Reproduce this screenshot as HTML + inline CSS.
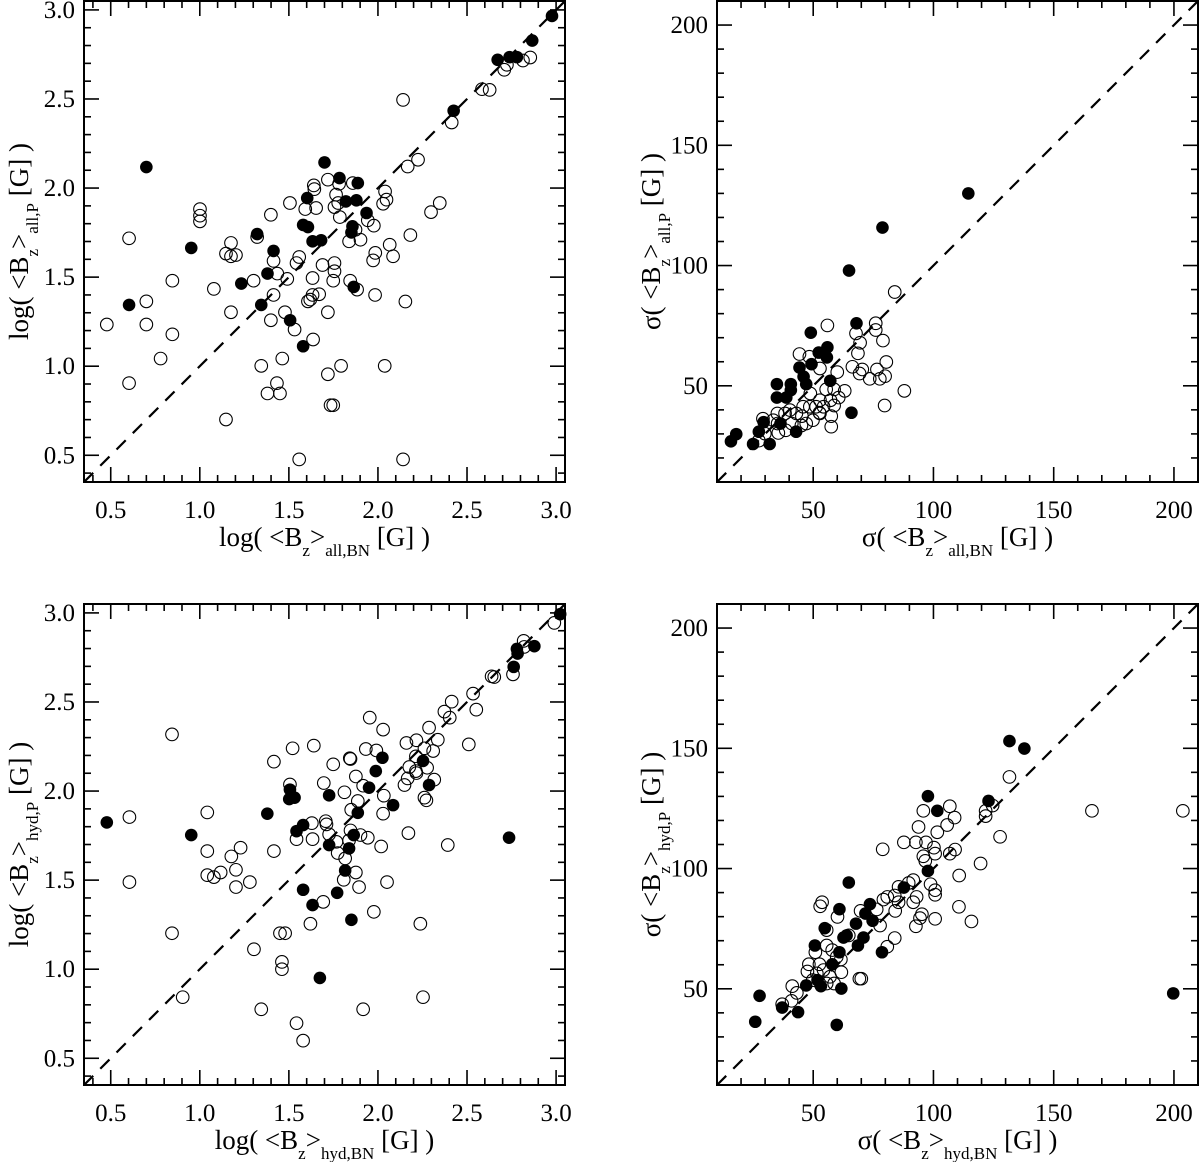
<!DOCTYPE html>
<html><head><meta charset="utf-8"><style>
html,body{margin:0;padding:0;background:#fff}
svg{display:block;font-family:"Liberation Serif","DejaVu Serif",serif}
</style></head><body>
<svg id="fig" width="1200" height="1162" viewBox="0 0 1200 1162" xmlns="http://www.w3.org/2000/svg"></svg>
<script>
// ---- data ----
const logTicks = [0.5,1.0,1.5,2.0,2.5,3.0];
const logTickLabels = ["0.5","1.0","1.5","2.0","2.5","3.0"];
const sigTicks = [50,100,150,200];
const sigTickLabels = ["50","100","150","200"];

const tlFilled = [[2.977,2.966],[2.866,2.828],[2.672,2.720],[2.739,2.735],[2.780,2.735],[2.425,2.434],[0.700,2.118],[1.700,2.144],[1.784,2.056],[1.887,2.028],[1.603,1.944],[1.820,1.925],[1.879,1.931],[1.936,1.860],[1.580,1.793],[1.607,1.781],[1.857,1.785],[1.851,1.751],[1.322,1.742],[1.633,1.701],[1.681,1.707],[0.952,1.664],[1.414,1.647],[1.380,1.520],[1.233,1.464],[0.603,1.344],[1.345,1.344],[1.864,1.445],[1.507,1.258],[1.580,1.112]];
const tlOpen = [[2.855,2.733],[2.814,2.716],[2.709,2.664],[2.724,2.692],[2.584,2.555],[2.627,2.551],[2.414,2.368],[2.141,2.495],[2.167,2.121],[2.225,2.159],[2.347,1.916],[2.298,1.865],[2.040,1.981],[2.048,1.935],[2.029,1.912],[1.977,1.789],[1.943,1.819],[1.640,2.015],[1.643,1.994],[1.719,2.047],[1.782,2.024],[1.859,2.028],[1.765,1.963],[1.777,1.916],[1.756,1.893],[1.786,1.837],[1.653,1.888],[1.592,1.882],[1.506,1.916],[1.399,1.850],[1.874,1.766],[1.902,1.710],[1.838,1.701],[2.182,1.736],[2.066,1.682],[1.985,1.636],[2.085,1.617],[1.973,1.594],[1.001,1.882],[1.001,1.845],[1.001,1.813],[0.603,1.718],[1.322,1.725],[1.175,1.692],[1.147,1.632],[1.175,1.617],[1.203,1.624],[1.414,1.591],[1.543,1.579],[1.558,1.613],[1.689,1.568],[1.756,1.579],[1.756,1.533],[1.749,1.480],[1.844,1.480],[1.883,1.430],[1.435,1.520],[1.491,1.490],[1.633,1.495],[0.846,1.480],[1.079,1.434],[1.302,1.480],[1.414,1.400],[1.633,1.400],[1.670,1.404],[1.607,1.364],[1.620,1.374],[1.984,1.400],[2.154,1.363],[0.700,1.364],[0.700,1.234],[0.478,1.234],[0.846,1.179],[1.175,1.303],[1.399,1.258],[1.478,1.303],[1.719,1.303],[1.532,1.206],[1.636,1.150],[0.780,1.043],[1.463,1.043],[1.345,1.002],[1.793,1.002],[2.038,1.002],[1.719,0.955],[0.603,0.905],[1.433,0.905],[1.380,0.847],[1.450,0.847],[1.734,0.781],[1.749,0.781],[1.147,0.701],[1.558,0.477],[2.141,0.477]];

const trFilled = [[114.5,130.0],[78.8,115.8],[64.9,97.9],[68.0,76.0],[49.0,72.1],[55.9,66.0],[52.3,63.8],[55.7,61.8],[49.3,59.0],[44.3,57.6],[46.0,53.8],[47.1,50.7],[34.9,50.7],[40.7,50.7],[40.7,48.2],[57.1,52.1],[34.9,45.1],[38.8,45.1],[65.9,38.8],[36.4,34.3],[29.4,34.9],[27.4,30.9],[42.9,30.9],[18.0,29.9],[15.8,26.9],[25.0,25.8],[31.9,25.8]];
const trOpen = [[83.9,89.0],[55.9,75.1],[76.0,76.0],[76.0,73.2],[67.8,71.8],[79.0,68.8],[69.5,67.9],[44.3,63.2],[48.4,62.1],[52.8,57.2],[60.0,55.7],[68.6,63.5],[66.3,57.9],[70.4,56.8],[69.3,55.1],[73.5,52.9],[76.5,56.8],[80.4,59.9],[77.7,52.9],[79.9,54.0],[87.9,47.9],[79.7,41.8],[55.4,48.5],[58.7,48.5],[63.1,47.9],[60.6,45.1],[48.8,46.8],[52.8,44.0],[57.2,44.0],[58.7,41.8],[54.3,41.3],[51.2,41.3],[52.6,38.8],[57.5,37.4],[57.5,33.0],[48.6,41.3],[45.8,41.3],[45.3,37.4],[43.0,38.5],[40.3,39.9],[38.3,38.5],[35.1,38.5],[33.4,35.7],[29.1,36.3],[41.1,34.3],[45.1,33.5],[38.6,31.5],[35.5,30.4],[29.9,30.1],[27.4,27.2],[47.1,34.3],[49.9,35.7],[35.2,34.3],[52.8,38.5]];

const blFilled = [[3.023,2.993],[2.878,2.813],[2.780,2.798],[2.784,2.772],[2.762,2.697],[0.478,1.824],[2.736,1.738],[2.025,2.187],[1.988,2.112],[2.253,2.169],[2.287,2.034],[1.950,2.019],[2.085,1.921],[1.726,1.976],[1.506,2.008],[1.502,1.955],[1.532,1.963],[1.379,1.873],[1.887,1.878],[1.580,1.809],[1.543,1.775],[0.952,1.753],[1.864,1.753],[1.726,1.697],[1.838,1.678],[1.816,1.554],[1.580,1.446],[1.771,1.429],[1.633,1.360],[1.851,1.277],[1.674,0.951]];
const blOpen = [[2.990,2.944],[2.818,2.843],[2.821,2.809],[2.758,2.655],[2.638,2.644],[2.653,2.640],[2.534,2.547],[2.552,2.457],[2.414,2.502],[2.373,2.446],[2.403,2.412],[2.287,2.356],[2.336,2.288],[2.510,2.262],[2.310,2.225],[2.261,2.240],[2.216,2.285],[2.160,2.270],[2.213,2.195],[2.176,2.135],[2.276,2.131],[2.213,2.112],[2.216,2.101],[2.167,2.071],[2.149,2.034],[2.316,2.064],[2.261,1.963],[2.272,1.948],[2.171,1.764],[2.392,1.697],[1.954,2.412],[2.029,2.345],[1.991,2.228],[1.932,2.236],[1.842,2.184],[1.846,2.180],[1.749,2.150],[1.640,2.255],[1.521,2.240],[1.416,2.165],[0.844,2.318],[1.876,2.082],[1.917,2.030],[1.696,2.045],[1.812,1.993],[2.033,1.974],[1.506,2.037],[1.887,1.944],[1.850,1.895],[2.029,1.873],[0.605,1.854],[1.042,1.880],[1.629,1.820],[1.707,1.831],[1.711,1.813],[1.726,1.757],[1.846,1.779],[1.902,1.753],[1.943,1.738],[2.018,1.689],[1.543,1.730],[1.633,1.730],[1.767,1.715],[1.838,1.723],[1.774,1.652],[1.816,1.622],[1.229,1.682],[1.042,1.663],[1.177,1.633],[1.416,1.663],[1.203,1.558],[1.042,1.528],[1.079,1.517],[1.117,1.543],[1.281,1.489],[1.203,1.461],[0.605,1.489],[1.808,1.502],[1.876,1.543],[1.894,1.461],[2.051,1.489],[1.693,1.378],[1.977,1.322],[1.621,1.255],[2.238,1.255],[0.844,1.202],[1.450,1.202],[1.479,1.202],[1.304,1.112],[1.461,1.041],[1.461,1.000],[0.904,0.843],[2.253,0.843],[1.345,0.775],[1.917,0.775],[1.543,0.697],[1.580,0.599]];

const brFilled = [[131.6,153.0],[137.8,149.9],[122.9,128.1],[199.7,48.1],[97.7,130.1],[101.6,124.0],[97.7,99.0],[64.8,94.2],[87.7,92.1],[73.6,85.2],[71.7,81.3],[74.7,78.3],[60.9,83.1],[67.8,77.1],[54.8,75.2],[63.9,72.2],[62.6,71.3],[70.9,71.3],[68.6,68.0],[50.7,68.0],[60.9,65.2],[78.6,65.2],[57.9,60.2],[47.1,51.4],[51.8,53.6],[53.2,51.1],[61.7,50.1],[27.7,47.1],[37.1,42.2],[43.7,40.3],[25.9,36.3],[59.8,35.0]];
const brOpen = [[131.6,138.1],[124.6,126.2],[121.7,124.0],[121.7,121.8],[127.7,113.2],[119.6,102.1],[110.7,97.1],[110.6,84.1],[115.8,78.0],[165.9,124.0],[203.7,124.0],[106.8,125.9],[108.8,121.2],[95.8,124.0],[105.7,118.1],[93.8,117.3],[101.6,115.1],[78.9,108.0],[87.7,110.9],[92.7,110.9],[96.9,110.9],[100.2,108.7],[100.7,106.2],[95.8,105.1],[96.6,103.2],[106.8,106.2],[109.0,107.9],[98.8,93.5],[100.7,91.0],[100.7,89.1],[100.7,79.1],[95.2,81.0],[94.4,79.4],[92.7,76.0],[91.6,95.2],[89.7,94.0],[93.0,88.2],[91.6,86.0],[85.5,92.4],[83.9,88.8],[84.1,82.4],[85.5,86.0],[80.8,88.2],[79.2,87.1],[76.4,83.0],[77.8,76.3],[69.7,82.4],[83.9,71.1],[80.8,67.5],[53.7,86.0],[52.9,84.3],[60.1,79.9],[55.6,74.4],[64.8,72.2],[69.2,54.2],[70.0,54.2],[61.7,56.9],[57.9,66.1],[55.6,68.0],[50.9,65.2],[59.8,63.3],[61.5,62.2],[48.2,60.2],[52.6,60.2],[54.3,57.8],[47.6,57.2],[51.5,56.4],[57.0,55.0],[49.8,53.6],[55.6,52.2],[58.7,52.2],[41.3,51.1],[43.2,48.3],[41.0,45.0],[37.1,43.6]];

// ---- drawing ----
const NS = "http://www.w3.org/2000/svg";
const svg = document.getElementById('fig');
function el(tag, attrs, parent){
  const e = document.createElementNS(NS, tag);
  for (const k in attrs) e.setAttribute(k, attrs[k]);
  (parent||svg).appendChild(e);
  return e;
}
function sub(t, txt, small){
  const s = document.createElementNS(NS,'tspan');
  s.textContent = txt;
  if (small){ s.setAttribute('font-size', small); s.setAttribute('baseline-shift','sub'); }
  t.appendChild(s);
}
function panel(cfg){
  const g = el('g', {});
  
  
  const {x0,y0,w,h,min,max} = cfg;
  const sx = v => x0 + (v-min)/(max-min)*w;
  const sy = v => y0 + h - (v-min)/(max-min)*h;
  const diag = el('line', {x1:sx(min),y1:sy(min),x2:sx(max),y2:sy(max),stroke:'#000','stroke-width':2.2,'stroke-dasharray':'13 10'}, g);
  
  
  cfg.open.forEach(p => {
    const c = el('circle', {cx:sx(p[0]),cy:sy(p[1]),r:6.3,fill:'none',stroke:'#000','stroke-width':1.1}, g);
    
    
  });
  cfg.filled.forEach(p => {
    const c = el('circle', {cx:sx(p[0]),cy:sy(p[1]),r:6.3,fill:'#000'}, g);
    
    
  });
  const fr = el('rect', {x:x0,y:y0,width:w,height:h,fill:'none',stroke:'#000','stroke-width':2}, g);
  
  
  const nMinor = Math.round((max-min)/cfg.minor);
  for (let i=0;i<=nMinor+1;i++){
    const v = Math.ceil(min/cfg.minor - 1e-6)*cfg.minor + i*cfg.minor;
    if (v > max + 1e-6) break;
    const isMaj = Math.abs(v/cfg.major - Math.round(v/cfg.major)) < 1e-6;
    const L = isMaj ? 15 : 7;
    const X = sx(v), Y = sy(v);
    el('line',{x1:X,y1:y0+h,x2:X,y2:y0+h-L,stroke:'#000','stroke-width':1.6},g);
    el('line',{x1:X,y1:y0,x2:X,y2:y0+L,stroke:'#000','stroke-width':1.6},g);
    el('line',{x1:x0,y1:Y,x2:x0+L,y2:Y,stroke:'#000','stroke-width':1.6},g);
    el('line',{x1:x0+w,y1:Y,x2:x0+w-L,y2:Y,stroke:'#000','stroke-width':1.6},g);
  }
  cfg.ticks.forEach((v,i) => {
    const tx = el('text',{x:sx(v),y:y0+h+36,'font-size':25,'text-anchor':'middle'},g);
    tx.textContent = cfg.labels[i];
    
    
    const ty = el('text',{x:x0-9,y:sy(v)+8,'font-size':25,'text-anchor':'end'},g);
    ty.textContent = cfg.labels[i];
    
    
  });
  const xt = el('text',{x:x0+w/2,y:y0+h+64,'font-size':27,'text-anchor':'middle'},g);
  
  
  sub(xt, cfg.fn+'( <B'); sub(xt,'z',17); sub(xt,'>'); sub(xt,cfg.xs,17); sub(xt,' [G] )');
  const yt = el('text',{x:0,y:0,'font-size':27,'text-anchor':'middle',transform:`translate(${cfg.ytx},${y0+h/2}) rotate(-90)`},g);
  
  
  sub(yt, cfg.fn+'( <B'); sub(yt,'z',17); sub(yt,'>'); sub(yt,cfg.ys,17); sub(yt,' [G] )');
}
panel({name:'panel-log-all',x0:84,y0:1,w:481,h:481,min:0.35,max:3.05,minor:0.1,major:0.5,ticks:logTicks,labels:logTickLabels,filled:tlFilled,open:tlOpen,fn:'log',xs:'all,BN',ys:'all,P',ytx:28});
panel({name:'panel-sigma-all',x0:717,y0:1,w:481,h:481,min:10,max:210,minor:10,major:50,ticks:sigTicks,labels:sigTickLabels,filled:trFilled,open:trOpen,fn:'σ',xs:'all,BN',ys:'all,P',ytx:660});
panel({name:'panel-log-hyd',x0:84,y0:604,w:481,h:481,min:0.35,max:3.05,minor:0.1,major:0.5,ticks:logTicks,labels:logTickLabels,filled:blFilled,open:blOpen,fn:'log',xs:'hyd,BN',ys:'hyd,P',ytx:28});
panel({name:'panel-sigma-hyd',x0:717,y0:604,w:481,h:481,min:10,max:210,minor:10,major:50,ticks:sigTicks,labels:sigTickLabels,filled:brFilled,open:brOpen,fn:'σ',xs:'hyd,BN',ys:'hyd,P',ytx:660});
</script>
</body></html>
